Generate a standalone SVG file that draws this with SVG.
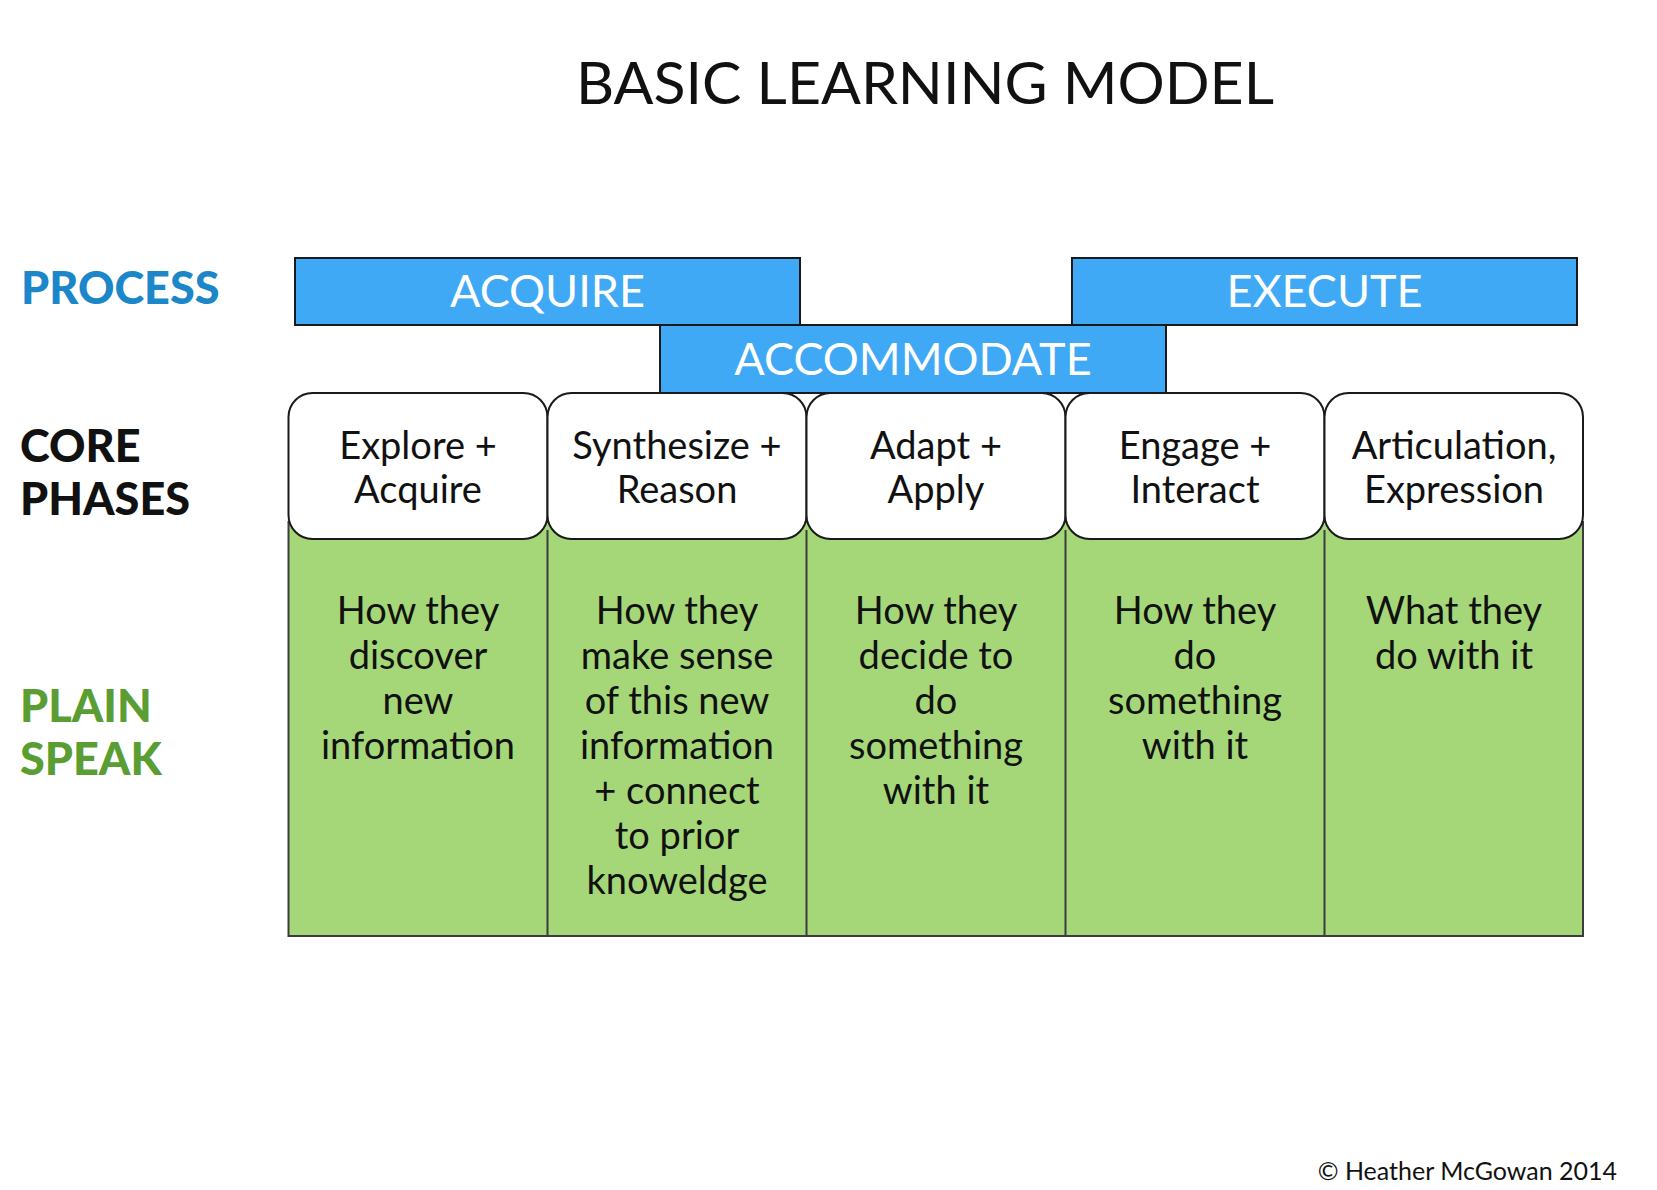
<svg xmlns="http://www.w3.org/2000/svg" width="1657" height="1190" viewBox="0 0 1657 1190">
<style>
text{font-family:Lato,"Open Sans","Liberation Sans",sans-serif;}
.title{font-size:59px;fill:#111;text-anchor:middle;}
.side{font-size:45px;font-weight:900;}
.blue{fill:#3fa9f5;stroke:#1a1a1a;stroke-width:2;}
.blabel{font-size:45px;fill:#fff;text-anchor:middle;}
.core{fill:#fff;stroke:#1a1a1a;stroke-width:2;}
.ctext{font-size:38px;fill:#111;text-anchor:middle;}
.green{fill:#a5d779;stroke:#3c3c3c;stroke-width:2;}
.div{stroke:#3c3c3c;stroke-width:2;}
</style>
<rect width="1657" height="1190" fill="#fff"/>
<text class="title" x="925" y="104">BASIC LEARNING MODEL</text>
<g id="labels">
<text class="side" x="21" y="304" fill="#1b87c9">PROCESS</text>
<text class="side" x="20" y="462" fill="#111">CORE</text>
<text class="side" x="20" y="515" fill="#111">PHASES</text>
<text class="side" x="20" y="722" fill="#5a9e33">PLAIN</text>
<text class="side" x="20" y="775" fill="#5a9e33">SPEAK</text>
</g>
<g id="process">
<g id="acquire"><rect class="blue" x="295" y="258" width="505" height="67"/><text class="blabel" x="547.5" y="307">ACQUIRE</text></g>
<g id="execute"><rect class="blue" x="1072" y="258" width="505" height="67"/><text class="blabel" x="1324.5" y="307">EXECUTE</text></g>
<g id="accommodate"><rect class="blue" x="660" y="325" width="506" height="68"/><text class="blabel" x="913" y="375">ACCOMMODATE</text></g>
</g>
<g id="plain">
<rect class="green" x="288.5" y="522" width="1294.5" height="414"/>
<g id="connectors">
<line class="div" x1="547.5" y1="530" x2="547.5" y2="936"/>
<line class="div" x1="806.5" y1="530" x2="806.5" y2="936"/>
<line class="div" x1="1065.5" y1="530" x2="1065.5" y2="936"/>
<line class="div" x1="1324.5" y1="530" x2="1324.5" y2="936"/>
</g>
</g>
<g id="core">
<g id="c1"><rect class="core" x="288.5" y="393" width="259" height="146" rx="24"/><text class="ctext" x="418" y="459">Explore +</text><text class="ctext" x="418" y="503">Acquire</text></g>
<g id="c2"><rect class="core" x="547.5" y="393" width="259" height="146" rx="24"/><text class="ctext" x="677" y="459">Synthesize +</text><text class="ctext" x="677" y="503">Reason</text></g>
<g id="c3"><rect class="core" x="806.5" y="393" width="259" height="146" rx="24"/><text class="ctext" x="936" y="459">Adapt +</text><text class="ctext" x="936" y="503">Apply</text></g>
<g id="c4"><rect class="core" x="1065.5" y="393" width="259" height="146" rx="24"/><text class="ctext" x="1195" y="459">Engage +</text><text class="ctext" x="1195" y="503">Interact</text></g>
<g id="c5"><rect class="core" x="1324.5" y="393" width="258.5" height="146" rx="24"/><text class="ctext" x="1454" y="459">Articulation,</text><text class="ctext" x="1454" y="503">Expression</text></g>
</g>
<g id="plaintext">
<g id="p1"><text class="ctext" x="418" y="624">How they</text><text class="ctext" x="418" y="669">discover</text><text class="ctext" x="418" y="714">new</text><text class="ctext" x="418" y="759">information</text></g>
<g id="p2"><text class="ctext" x="677" y="624">How they</text><text class="ctext" x="677" y="669">make sense</text><text class="ctext" x="677" y="714">of this new</text><text class="ctext" x="677" y="759">information</text><text class="ctext" x="677" y="804">+ connect</text><text class="ctext" x="677" y="849">to prior</text><text class="ctext" x="677" y="894">knoweldge</text></g>
<g id="p3"><text class="ctext" x="936" y="624">How they</text><text class="ctext" x="936" y="669">decide to</text><text class="ctext" x="936" y="714">do</text><text class="ctext" x="936" y="759">something</text><text class="ctext" x="936" y="804">with it</text></g>
<g id="p4"><text class="ctext" x="1195" y="624">How they</text><text class="ctext" x="1195" y="669">do</text><text class="ctext" x="1195" y="714">something</text><text class="ctext" x="1195" y="759">with it</text></g>
<g id="p5"><text class="ctext" x="1454" y="624">What they</text><text class="ctext" x="1454" y="669">do with it</text></g>
</g>
<text x="1617" y="1180" font-size="25" fill="#111" text-anchor="end">© Heather McGowan 2014</text>
</svg>
